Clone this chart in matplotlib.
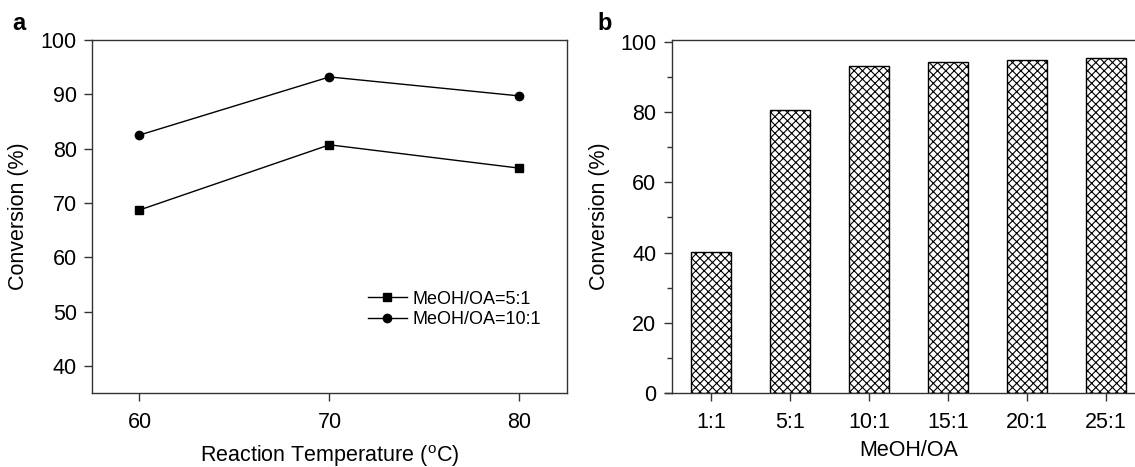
import numpy as np
import matplotlib
matplotlib.use('Agg')
from matplotlib import pyplot as plt

plt.rcParams['font.family'] = 'Liberation Sans'
plt.rcParams['mathtext.fontset'] = 'custom'
plt.rcParams['mathtext.rm'] = 'Liberation Sans'
plt.rcParams['hatch.linewidth'] = 0.8

# panel a data
temps = [60, 70, 80]
conv_5 = [68.7, 80.7, 76.4]
conv_10 = [82.5, 93.2, 89.7]

# panel b data
ratios = ['1:1', '5:1', '10:1', '15:1', '20:1', '25:1']
conv_ratio = [40.1, 80.6, 93.1, 94.1, 94.8, 95.5]

W, H = 1135, 467
fig = plt.figure(figsize=(W / 100, H / 100), dpi=100)

spine_col = '#333333'

# ---- panel a
ax1 = fig.add_axes([92 / W, 74 / H, 475 / W, 353 / H])
ax1.plot(temps, conv_5, color='black', lw=1, marker='s', ms=5.5, label='MeOH/OA=5:1')
ax1.plot(temps, conv_10, color='black', lw=1, marker='o', ms=6, label='MeOH/OA=10:1')
ax1.set_xlim(57.5, 82.5)
ax1.set_ylim(35, 100)
ax1.set_xticks([60, 70, 80])
ax1.set_yticks([40, 50, 60, 70, 80, 90, 100])
ax1.tick_params(direction='out', length=6, width=1, labelsize=15.5, color=spine_col, pad=5)
ax1.tick_params(axis='x', pad=8)
for s in ax1.spines.values():
    s.set_color(spine_col)
    s.set_linewidth(1)
ax1.set_xlabel(r'Reaction Temperature ($^{\mathrm{o}}$C)', fontsize=15.5, labelpad=7)
ax1.set_ylabel('Conversion (%)', fontsize=15.5, labelpad=8)
ax1.legend(loc='upper left', bbox_to_anchor=(0.565, 0.31), frameon=False, fontsize=13,
           handlelength=2.2, handletextpad=0.3, labelspacing=0.2, borderaxespad=0)

# ---- panel b
ax2 = fig.add_axes([671.5 / W, 74 / H, 474 / W, 353 / H])
x = np.arange(len(ratios))
ax2.bar(x, conv_ratio, width=0.5, color='white', edgecolor='black', lw=1, hatch='xxxx')
ax2.set_xlim(-0.5, 5.5)
ax2.set_ylim(0, 100.5)
ax2.set_xticks(x)
ax2.set_xticklabels(ratios)
ax2.set_yticks([0, 20, 40, 60, 80, 100])
ax2.set_yticks([10, 30, 50, 70, 90], minor=True)
ax2.tick_params(direction='out', length=6, width=1, labelsize=15.5, color=spine_col, pad=5)
ax2.tick_params(axis='x', pad=8)
ax2.tick_params(which='minor', direction='out', length=3.5, width=1, color=spine_col)
for s in ax2.spines.values():
    s.set_color(spine_col)
    s.set_linewidth(1)
ax2.axhline(0, xmin=-0.014, xmax=0, color=spine_col, lw=1, clip_on=False)
ax2.set_xlabel('MeOH/OA', fontsize=15.5, labelpad=5)
ax2.set_ylabel('Conversion (%)', fontsize=15.5, labelpad=7)

fig.text(12 / W, 1 - 30 / H, 'a', fontsize=17, fontweight='bold')
fig.text(597 / W, 1 - 30 / H, 'b', fontsize=17, fontweight='bold')

fig.savefig('out.png', dpi=100)
